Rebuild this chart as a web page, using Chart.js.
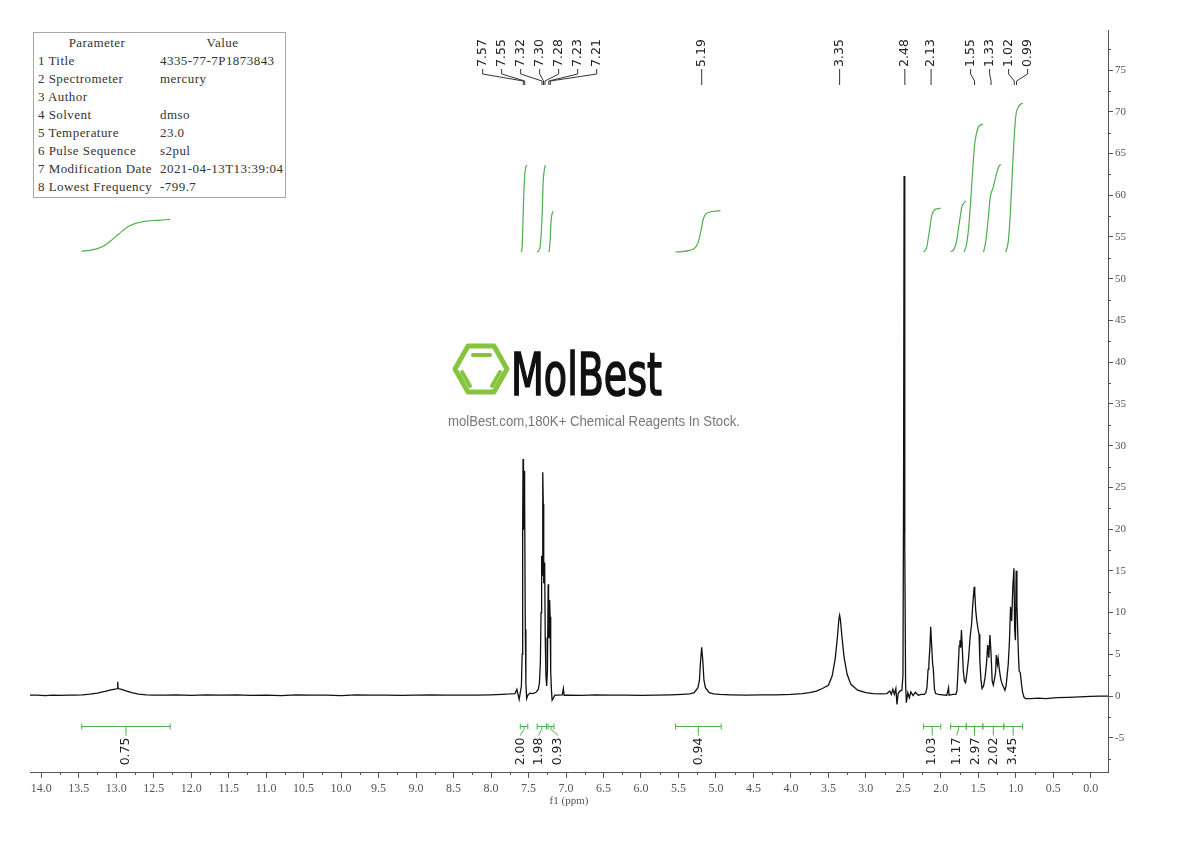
<!DOCTYPE html>
<html>
<head>
<meta charset="utf-8">
<script src="https://cdn.jsdelivr.net/npm/chart.js@4.4.1/dist/chart.umd.min.js"></script>
<style>
html, body { margin: 0; padding: 0; background: #fff; }
#wrap { position: relative; width: 1190px; height: 841px; }
#nmr { position: absolute; left: 0; top: 0; }
#params { position: absolute; left: 33px; top: 32px; width: 253px; height: 166px; box-sizing: border-box;
  border: 1px solid #a8a8a8; padding-top: 1px; font: 13px "Liberation Serif", serif; letter-spacing: 0.45px; color: #333; background: #fff; }
#params .row { display: flex; height: 18px; line-height: 18px; white-space: nowrap; }
#params .k { width: 122px; padding-left: 4px; }
#params .v { flex: 1; }
#params .head .k { text-align: center; padding-left: 0; width: 126px; }
#params .head .v { text-align: center; }
#mark { position: absolute; left: 0; top: 0; pointer-events: none; }
</style>
</head>
<body>
<div id="wrap">
  <canvas id="nmr" width="1190" height="841"></canvas>
  <div id="params"></div>
  <svg id="mark" width="1190" height="841">
    <g fill="none" stroke="#86c440" stroke-linecap="round" stroke-linejoin="round">
      <polygon points="455,369 468,346 494,346 507,369 494,392 468,392" stroke-width="5"/>
      <line x1="473" y1="355" x2="490" y2="355" stroke-width="4"/>
      <line x1="462" y1="372" x2="470" y2="386" stroke-width="4"/>
      <line x1="500" y1="372" x2="492" y2="386" stroke-width="4"/>
    </g>
    <text x="511" y="395" font-family="'DejaVu Sans Condensed', 'Liberation Sans Narrow', sans-serif" font-size="58" fill="#111" stroke="#111" stroke-width="1.6" textLength="151" lengthAdjust="spacingAndGlyphs">MolBest</text>
    <text x="448" y="426" font-family="'Liberation Sans', Arial, sans-serif" font-size="14" fill="#777" textLength="292" lengthAdjust="spacingAndGlyphs">molBest.com,180K+ Chemical Reagents In Stock.</text>
  </svg>
</div>
<script>
// parameter table
const paramNames = ['1 Title', '2 Spectrometer', '3 Author', '4 Solvent', '5 Temperature', '6 Pulse Sequence', '7 Modification Date', '8 Lowest Frequency'];
const paramValues = ['4335-77-7P1873843', 'mercury', '', 'dmso', '23.0', 's2pul', '2021-04-13T13:39:04', '-799.7'];

// axis ticks
const xTickValues = [0, 0.5, 1, 1.5, 2, 2.5, 3, 3.5, 4, 4.5, 5, 5.5, 6, 6.5, 7, 7.5, 8, 8.5, 9, 9.5, 10, 10.5, 11, 11.5, 12, 12.5, 13, 13.5, 14];
const xMinorTicks = [0.25, 0.75, 1.25, 1.75, 2.25, 2.75, 3.25, 3.75, 4.25, 4.75, 5.25, 5.75, 6.25, 6.75, 7.25, 7.75, 8.25, 8.75, 9.25, 9.75, 10.25, 10.75, 11.25, 11.75, 12.25, 12.75, 13.25, 13.75];
const yTickValues = [-5, 0, 5, 10, 15, 20, 25, 30, 35, 40, 45, 50, 55, 60, 65, 70, 75];
const yMinorTicks = [-7.5, -2.5, 2.5, 7.5, 12.5, 17.5, 22.5, 27.5, 32.5, 37.5, 42.5, 47.5, 52.5, 57.5, 62.5, 67.5, 72.5, 77.5];

// spectrum [ppm, intensity]
const baseLeft = [[14.15,0.1],[14.05,0.12],[13.95,0.06],[13.85,0.12],[13.75,0.08],[13.65,0.1]];
const acidHump = [[13.55,0.12],[13.45,0.15],[13.35,0.22],[13.25,0.35],[13.15,0.55],[13.07,0.75],[13.0,0.85],[12.985,0.9],[12.98,1.7],[12.975,0.9],[12.93,0.8],[12.86,0.6],[12.78,0.38],[12.7,0.22],[12.6,0.14],[12.5,0.1]];
const baseMid = [[12.35,0.1],[12.2,0.15],[12.0,0.08],[11.8,0.15],[11.6,0.1],[11.4,0.14],[11.2,0.08],[11.0,0.12],[10.8,0.06],[10.6,0.15],[10.4,0.1],[10.2,0.12],[10.0,0.06],[9.8,0.15],[9.6,0.1],[9.4,0.12],[9.2,0.07],[9.0,0.1],[8.8,0.15],[8.6,0.1],[8.4,0.12],[8.2,0.1],[8.0,0.15],[7.85,0.2],[7.75,0.25]];
const aromatic = [[7.68,0.3],[7.655,0.8],[7.64,0.2],[7.625,-0.4],[7.61,0.4],[7.595,1.2],[7.585,5],[7.578,20],[7.573,28.4],[7.567,22],[7.56,20],[7.555,27],[7.549,24],[7.543,8],[7.535,1.5],[7.525,-0.3],[7.51,0.1],[7.48,0.35],[7.44,0.3],[7.40,0.45],[7.37,0.8],[7.355,1.5],[7.342,4],[7.333,10],[7.325,16.8],[7.318,14.5],[7.31,26.8],[7.303,23],[7.297,13.5],[7.29,16],[7.284,15.2],[7.277,7],[7.268,2.5],[7.258,1.2],[7.248,3],[7.238,13.4],[7.232,9],[7.226,7],[7.218,11.5],[7.212,9.5],[7.204,3],[7.195,0.8],[7.185,-0.5],[7.17,-0.3],[7.15,0.1]];
const baseAr = [[7.10,0.1],[7.05,0.15],[7.035,0.9],[7.025,0.1],[6.95,0.12],[6.8,0.08],[6.6,0.15],[6.4,0.1],[6.2,0.12],[6.0,0.08],[5.8,0.12],[5.6,0.15],[5.45,0.2]];
const peak519 = [[5.35,0.25],[5.29,0.4],[5.24,1.0],[5.22,1.9],[5.205,4.2],[5.19,5.85],[5.175,4.2],[5.16,1.9],[5.14,1.0],[5.09,0.4],[5.03,0.25]];
const baseCH = [[4.95,0.2],[4.8,0.15],[4.6,0.1],[4.4,0.15],[4.2,0.15],[4.0,0.2],[3.85,0.3]];
const peak335 = [[3.75,0.4],[3.66,0.6],[3.58,0.9],[3.50,1.3],[3.45,2.4],[3.41,4.4],[3.38,7.0],[3.36,9.2],[3.35,9.7],[3.34,9.2],[3.32,7.2],[3.29,4.6],[3.25,2.6],[3.20,1.4],[3.11,0.7],[3.0,0.4],[2.9,0.3],[2.8,0.25]];
const solvent = [[2.72,0.3],[2.68,0.6],[2.66,0.2],[2.64,0.8],[2.62,0.2],[2.60,0.9],[2.585,-1.0],[2.57,0.3],[2.545,0.6],[2.52,0.7],[2.505,2.5],[2.497,25],[2.49,62.3],[2.484,55],[2.478,18],[2.47,1.5],[2.46,-0.8],[2.44,0.4],[2.42,-0.2],[2.40,0.5],[2.37,0.05],[2.34,0.45],[2.30,0.1],[2.26,0.2]];
const peak213 = [[2.22,0.2],[2.20,0.4],[2.185,1.0],[2.17,3.2],[2.16,3.8],[2.145,6],[2.135,8.3],[2.125,6.5],[2.11,3.9],[2.10,3.2],[2.085,0.8],[2.07,0.3],[2.03,0.2],[1.98,0.15],[1.92,0.1],[1.897,1.0],[1.89,0.1],[1.84,0.2]];
const aliphatic = [[1.80,0.2],[1.785,0.6],[1.77,3.1],[1.755,6.0],[1.745,6.7],[1.735,5.8],[1.725,7.9],[1.715,6.0],[1.70,3.0],[1.685,1.8],[1.67,1.6],[1.655,2.5],[1.63,4.5],[1.61,7.0],[1.59,8.6],[1.575,10.8],[1.565,12.0],[1.555,13.1],[1.55,11.9],[1.545,12.5],[1.535,10.3],[1.52,9.0],[1.505,8.1],[1.49,7.4],[1.48,4.3],[1.465,2.0],[1.45,0.9],[1.43,1.2],[1.41,2.2],[1.39,4.0],[1.375,6.1],[1.36,4.6],[1.345,7.3],[1.33,5.0],[1.315,1.8],[1.30,1.3],[1.285,2.0],[1.27,2.8],[1.26,4.9],[1.245,3.8],[1.235,4.5],[1.22,3.2],[1.20,2.0],[1.18,1.4],[1.16,1.0],[1.145,0.7],[1.13,1.2],[1.115,2.5],[1.10,3.9],[1.085,6.5],[1.07,10.7],[1.055,9.0],[1.04,13.0],[1.025,15.3],[1.015,8.0],[1.005,6.7],[0.995,15.0],[0.985,11.0],[0.975,7.9],[0.965,5.0],[0.955,3.0],[0.94,2.8],[0.925,1.5],[0.91,0.5],[0.89,-0.15],[0.87,-0.3]];
const baseRight = [[0.8,-0.3],[0.7,-0.25],[0.6,-0.3],[0.45,-0.2],[0.3,-0.15],[0.15,-0.1],[0.0,-0.05],[-0.12,0.0],[-0.23,0.0]];
const spectrum = [...baseLeft, ...acidHump, ...baseMid, ...aromatic, ...baseAr, ...peak519, ...baseCH, ...peak335, ...solvent, ...peak213, ...aliphatic, ...baseRight];

// picked peaks
const peakLabels = [12.98, 7.57, 7.55, 7.32, 7.30, 7.28, 7.23, 7.21, 5.19, 3.35, 2.48, 2.13, 1.55, 1.33, 1.02, 0.99];

// integrals: ranges (ppm), values, and the running-integral curves
const intFrom = [13.46, 7.61, 7.385, 7.24, 5.54, 2.23, 1.87, 1.66, 1.44, 1.16];
const intTo   = [12.28, 7.51, 7.26, 7.16, 4.93, 2.00, 1.66, 1.44, 1.16, 0.91];
const intValues = ['0.75', '2.00', '1.98', '0.93', '0.94', '1.03', '1.17', '2.97', '2.02', '3.45'];
const intCurve1 = [[13.46,53.3],[13.35,53.4],[13.25,53.6],[13.15,54.0],[13.08,54.5],[13.0,55.1],[12.92,55.7],[12.85,56.2],[12.75,56.6],[12.6,56.9],[12.45,57.0],[12.28,57.1]];
const intCurve2 = [[7.60,53.2],[7.585,53.8],[7.575,56.5],[7.565,59.5],[7.55,62.5],[7.535,63.4],[7.52,63.6]];
const intCurve3 = [[7.385,53.2],[7.35,53.6],[7.33,55.5],[7.315,58.5],[7.305,61.5],[7.29,63.0],[7.275,63.6]];
const intCurve4 = [[7.225,53.2],[7.21,54.8],[7.20,56.8],[7.185,57.8],[7.17,58.1]];
const intCurve5 = [[5.54,53.2],[5.45,53.25],[5.35,53.4],[5.28,53.7],[5.24,54.3],[5.21,55.3],[5.19,56.2],[5.17,57.1],[5.14,57.7],[5.08,58.0],[5.0,58.1],[4.94,58.15]];
const intCurve6 = [[2.23,53.2],[2.19,53.7],[2.165,55.0],[2.14,56.5],[2.12,57.6],[2.09,58.2],[2.04,58.4],[2.0,58.45]];
const intCurve7 = [[1.87,53.2],[1.82,53.6],[1.79,54.5],[1.765,56.0],[1.74,57.5],[1.72,58.6],[1.69,59.1],[1.665,59.3]];
const intCurve8 = [[1.69,53.2],[1.66,54.0],[1.63,56.0],[1.60,59.5],[1.575,63.0],[1.55,66.0],[1.52,67.6],[1.49,68.3],[1.44,68.5]];
const intCurve9 = [[1.43,53.2],[1.40,54.5],[1.37,57.0],[1.34,59.8],[1.30,61.0],[1.26,62.5],[1.23,63.4],[1.20,63.7]];
const intCurve10 = [[1.135,53.2],[1.10,54.5],[1.075,57.5],[1.05,62.0],[1.025,66.5],[1.00,69.5],[0.97,70.5],[0.94,70.9],[0.905,71.0]];
const intCurves = [intCurve1, intCurve2, intCurve3, intCurve4, intCurve5, intCurve6, intCurve7, intCurve8, intCurve9, intCurve10];
const INT_BAR_LEVEL = -3.6;

const GREEN = '#4fae4f';
const LABEL_FONT = '12.5px "DejaVu Sans", sans-serif';

// table
const tbl = document.getElementById('params');
let html = '<div class="row head"><div class="k">Parameter</div><div class="v">Value</div></div>';
paramNames.forEach((n, i) => { html += '<div class="row"><div class="k">' + n + '</div><div class="v">' + paramValues[i] + '</div></div>'; });
tbl.innerHTML = html;

// push crowded labels apart, keeping each group centred on its marks
function spread(px, gap) {
    let groups = px.map(p => ({ n: 1, sum: p, start: p }));
    let merged = true;
    while (merged) {
        merged = false;
        for (let i = 0; i < groups.length - 1; i++) {
            const a = groups[i], b = groups[i + 1];
            if (b.start - (a.start + (a.n - 1) * gap) < gap) {
                const n = a.n + b.n, sum = a.sum + b.sum;
                groups.splice(i, 2, { n, sum, start: sum / n - (n - 1) * gap / 2 });
                merged = true;
                break;
            }
        }
    }
    const out = [];
    groups.forEach(g => { for (let k = 0; k < g.n; k++) out.push(g.start + k * gap); });
    return out;
}

const annot = {
    id: 'annot',
    afterDraw(chart) {
        const { ctx, scales: { x, y } } = chart;
        ctx.save();
        // minor ticks
        ctx.strokeStyle = '#555';
        ctx.lineWidth = 1;
        ctx.beginPath();
        xMinorTicks.forEach(v => { const p = Math.round(x.getPixelForValue(v)) + 0.5; ctx.moveTo(p, x.top); ctx.lineTo(p, x.top + 3); });
        yMinorTicks.forEach(v => { const p = Math.round(y.getPixelForValue(v)) + 0.5; ctx.moveTo(y.left, p); ctx.lineTo(y.left + 3, p); });
        ctx.stroke();

        // peak labels along the top
        ctx.font = LABEL_FONT;
        ctx.fillStyle = '#222';
        ctx.strokeStyle = '#333';
        const px = peakLabels.map(v => x.getPixelForValue(v));
        const lx = spread(px, 19);
        peakLabels.forEach((v, i) => {
            ctx.save();
            ctx.translate(lx[i], 67);
            ctx.rotate(-Math.PI / 2);
            ctx.textAlign = 'left';
            ctx.textBaseline = 'middle';
            ctx.fillText(v.toFixed(2), 0, 0);
            ctx.restore();
            ctx.beginPath();
            if (Math.abs(lx[i] - px[i]) < 1) {
                ctx.moveTo(px[i], 69); ctx.lineTo(px[i], 85);
            } else {
                ctx.moveTo(lx[i], 69); ctx.lineTo(lx[i], 74); ctx.lineTo(px[i], 81); ctx.lineTo(px[i], 85);
            }
            ctx.stroke();
        });

        // integration bars and values along the bottom
        const by = Math.round(y.getPixelForValue(INT_BAR_LEVEL)) + 0.5;
        const cx = intFrom.map((f, i) => x.getPixelForValue((f + intTo[i]) / 2));
        const ix = spread(cx, 18.5);
        ctx.strokeStyle = GREEN;
        intFrom.forEach((f, i) => {
            const x1 = x.getPixelForValue(f), x2 = x.getPixelForValue(intTo[i]);
            ctx.beginPath();
            ctx.moveTo(x1, by); ctx.lineTo(x2, by);
            ctx.moveTo(x1, by - 3); ctx.lineTo(x1, by + 3);
            ctx.moveTo(x2, by - 3); ctx.lineTo(x2, by + 3);
            ctx.stroke();
            ctx.beginPath();
            if (Math.abs(ix[i] - cx[i]) < 1) {
                ctx.moveTo(cx[i], by); ctx.lineTo(cx[i], by + 9);
            } else {
                ctx.moveTo(cx[i], by); ctx.lineTo(cx[i], by + 3); ctx.lineTo(ix[i], by + 8); ctx.lineTo(ix[i], by + 9);
            }
            ctx.stroke();
            ctx.save();
            ctx.translate(ix[i], by + 11);
            ctx.rotate(-Math.PI / 2);
            ctx.textAlign = 'right';
            ctx.textBaseline = 'middle';
            ctx.fillStyle = '#222';
            ctx.fillText(intValues[i], 0, 0);
            ctx.restore();
        });
        ctx.restore();
    }
};

const serif = '"Liberation Serif", serif';
const datasets = [{
    data: spectrum.map(([px, py]) => ({ x: px, y: py })),
    borderColor: '#111',
    borderWidth: 1.3,
    pointRadius: 0,
    tension: 0
}];
intCurves.forEach(c => datasets.push({
    data: c.map(([px, py]) => ({ x: px, y: py })),
    borderColor: GREEN,
    borderWidth: 1.2,
    pointRadius: 0,
    cubicInterpolationMode: 'monotone'
}));

new Chart(document.getElementById('nmr'), {
    type: 'line',
    data: { datasets },
    options: {
        responsive: false,
        animation: false,
        devicePixelRatio: 1,
        layout: { padding: { left: 30, top: 30, right: 0, bottom: 33 } },
        plugins: { legend: { display: false }, tooltip: { enabled: false } },
        scales: {
            x: {
                type: 'linear', reverse: true, min: -0.23, max: 14.15, position: 'bottom',
                afterBuildTicks: s => { s.ticks = xTickValues.map(v => ({ value: v })); },
                afterFit: s => { s.height = 36; },
                grid: { drawOnChartArea: false, drawTicks: true, tickLength: 6, color: '#555' },
                border: { display: true, color: '#555', width: 1 },
                ticks: { autoSkip: false, maxRotation: 0, padding: 4, color: '#555', font: { family: serif, size: 12 }, callback: v => Number(v).toFixed(1) },
                title: { display: true, text: 'f1 (ppm)', color: '#555', font: { family: serif, size: 11 }, padding: { top: 0, bottom: 0 } }
            },
            y: {
                type: 'linear', position: 'right', min: -9.1, max: 79.8,
                afterBuildTicks: s => { s.ticks = yTickValues.map(v => ({ value: v })); },
                afterFit: s => { s.width = 82; },
                grid: { drawOnChartArea: false, drawTicks: true, tickLength: 5, color: '#555' },
                border: { display: true, color: '#555', width: 1 },
                ticks: { padding: 2, color: '#555', font: { family: serif, size: 11 } }
            }
        }
    },
    plugins: [annot]
});
</script>
</body>
</html>
